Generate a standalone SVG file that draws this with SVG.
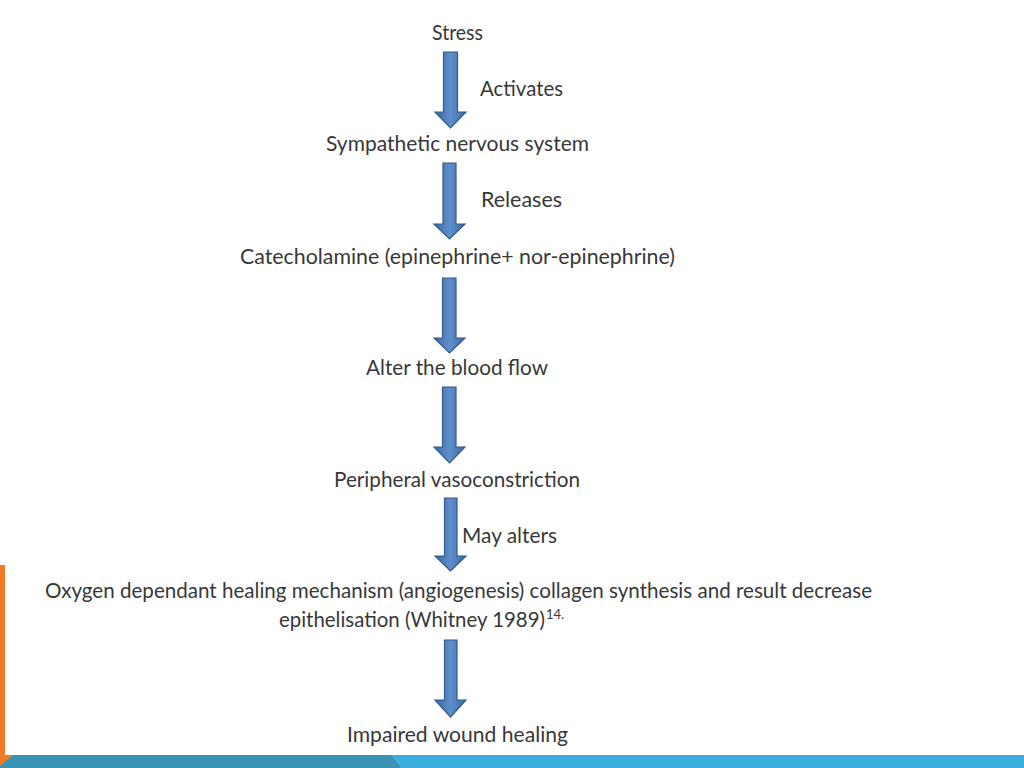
<svg xmlns="http://www.w3.org/2000/svg" width="1024" height="768" viewBox="0 0 1024 768">
<defs>
<linearGradient id="ag" x1="0" y1="0" x2="1" y2="0">
<stop offset="0" stop-color="#3a6aa3"/>
<stop offset="0.5" stop-color="#5f8fca"/>
<stop offset="1" stop-color="#3a6aa3"/>
</linearGradient>
<style>
.t{font-family:Lato,"Liberation Sans",sans-serif;font-size:21px;fill:#383838}
.m{text-anchor:middle}
.arr{fill:url(#ag);stroke:#35598a;stroke-width:1.2;stroke-linejoin:miter}
</style>
</defs>
<rect width="1024" height="768" fill="#ffffff"/>
<!-- decoration -->
<rect x="0" y="565" width="5" height="190" fill="#ef7b27"/>
<polygon points="0,755 392,755 402,768 0,768" fill="#3893b4"/>
<polygon points="392,755 1024,755 1024,768 402,768" fill="#3aafdf"/>
<polygon points="0,755 13,755 0,766" fill="#ef7b27"/>

<g id="connectors">
<path class="arr" d="M443.5,52 H457.5 V112 H466 L450.5,128 L435,112 H443.5 Z"/>
<path class="arr" d="M443,163 H456 V224 H465 L449.5,239 L434,224 H443 Z"/>
<path class="arr" d="M442.5,278 H456 V338 H465 L449.5,353 L434,338 H442.5 Z"/>
<path class="arr" d="M442.5,387 H456 V447 H465 L449.5,463 L434,447 H442.5 Z"/>
<path class="arr" d="M444.5,498 H457 V556 H466 L450.5,571 L435,556 H444.5 Z"/>
<path class="arr" d="M444.5,640 H457 V700 H466 L450.5,717 L435,700 H444.5 Z"/>
</g>

<g id="n-stress"><text class="t m" x="457.5" y="40" textLength="51" lengthAdjust="spacingAndGlyphs">Stress</text></g>
<g id="l-activates"><text class="t" x="480" y="96" textLength="83" lengthAdjust="spacingAndGlyphs">Activates</text></g>
<g id="n-sympathetic"><text class="t m" x="457.5" y="151" textLength="263" lengthAdjust="spacingAndGlyphs">Sympathetic nervous system</text></g>
<g id="l-releases"><text class="t" x="481" y="207" textLength="81" lengthAdjust="spacingAndGlyphs">Releases</text></g>
<g id="n-catecholamine"><text class="t m" x="457.5" y="264" textLength="435" lengthAdjust="spacingAndGlyphs">Catecholamine (epinephrine+ nor-epinephrine)</text></g>
<g id="n-alter"><text class="t m" x="457" y="375" textLength="182" lengthAdjust="spacingAndGlyphs">Alter the blood flow</text></g>
<g id="n-peripheral"><text class="t m" x="457" y="487" textLength="246" lengthAdjust="spacingAndGlyphs">Peripheral vasoconstriction</text></g>
<g id="l-may"><text class="t" x="462" y="543" textLength="95" lengthAdjust="spacingAndGlyphs">May alters</text></g>
<g id="n-oxygen">
<text class="t m" x="458.5" y="598" textLength="827" lengthAdjust="spacingAndGlyphs">Oxygen dependant healing mechanism (angiogenesis) collagen synthesis and result decrease</text>
<text class="t" x="279" y="627"><tspan textLength="266" lengthAdjust="spacingAndGlyphs">epithelisation (Whitney 1989)</tspan><tspan x="546" y="619" style="font-size:13px">14.</tspan></text>
</g>
<g id="n-impaired"><text class="t m" x="457.5" y="742" textLength="221" lengthAdjust="spacingAndGlyphs">Impaired wound healing</text></g>
</svg>
